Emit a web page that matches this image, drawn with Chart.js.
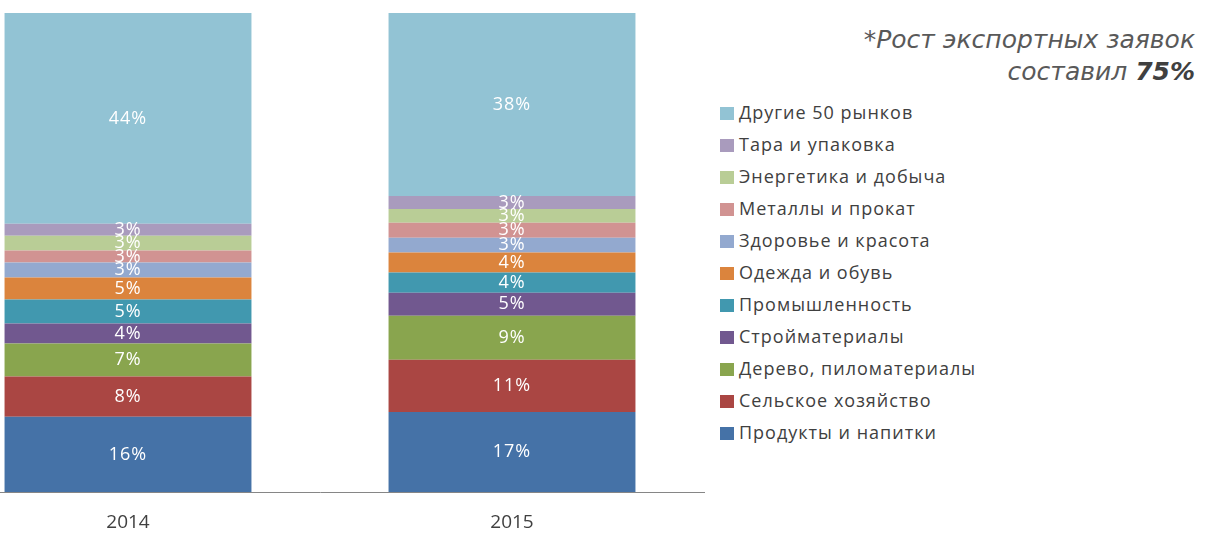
<!DOCTYPE html>
<html>
<head>
<meta charset="utf-8">
<script src="https://cdn.jsdelivr.net/npm/chart.js@4"></script>
<style>
    body { margin: 0; width: 1206px; height: 535px; overflow: hidden; background: #fff; position: relative; }
    #wrap { position: absolute; left: -64px; top: 0; width: 770px; height: 535px; }
    #note { position: absolute; right: 11px; top: 24px; text-align: right; color: #595959;
            font-family: "DejaVu Sans", sans-serif; font-style: italic; font-size: 25px; line-height: 32px; }
    #note b { color: #404040; }
    #legend { position: absolute; left: 720px; top: 96px; margin: 0; padding: 0; list-style: none;
              font-family: "Open Sans", sans-serif; font-size: 18px; letter-spacing: 1px; color: #404040; }
    #legend li { height: 32px; line-height: 32px; white-space: nowrap; }
    #legend span { display: inline-block; width: 14px; height: 13px; margin-right: 5px; vertical-align: -1px; }
</style>
</head>
<body>
<div id="wrap"><canvas id="chart"></canvas></div>
<div id="note">*Рост экспортных заявок<br>составил <b>75%</b></div>
<ul id="legend"></ul>
<script>
// categories (years)
const years = ['2014', '2015'];

// segments, bottom to top
const segments = [
    'Продукты и напитки',
    'Сельское хозяйство',
    'Дерево, пиломатериалы',
    'Стройматериалы',
    'Промышленность',
    'Одежда и обувь',
    'Здоровье и красота',
    'Металлы и прокат',
    'Энергетика и добыча',
    'Тара и упаковка',
    'Другие 50 рынков'
];

// share of each segment, %
const share2014 = [15.7, 8.4, 6.9, 4.2, 5.0, 4.6, 3.1, 2.5, 3.1, 2.5, 44.0];
const share2015 = [16.7, 10.9, 9.2, 4.8, 4.2, 4.2, 3.1, 3.1, 2.9, 2.7, 38.2];

const colors = ['#4572A7', '#AA4643', '#89A54E', '#71588F', '#4198AF', '#DB843D',
                '#93A9CF', '#D19392', '#B9CD96', '#A99BBD', '#92C3D4'];

// white % labels in the middle of each segment
const segmentLabels = {
    id: 'segmentLabels',
    afterDatasetsDraw(chart) {
        const ctx = chart.ctx;
        ctx.save();
        ctx.fillStyle = '#fff';
        ctx.font = '18px "Open Sans", sans-serif';
        ctx.letterSpacing = '1px';
        ctx.textAlign = 'center';
        ctx.textBaseline = 'middle';
        chart.data.datasets.forEach((ds, i) => {
            chart.getDatasetMeta(i).data.forEach((bar, j) => {
                const v = ds.data[j];
                ctx.fillText(Math.round(v) + '%', bar.x, (bar.y + bar.base) / 2);
            });
        });
        ctx.restore();
    }
};

new Chart(document.getElementById('chart'), {
    type: 'bar',
    data: {
        labels: years,
        datasets: segments.map((name, i) => ({
            label: name,
            data: [share2014[i], share2015[i]],
            backgroundColor: colors[i],
            borderWidth: 0,
            barPercentage: 0.643,
            categoryPercentage: 1
        }))
    },
    options: {
        responsive: true,
        maintainAspectRatio: false,
        animation: false,
        layout: { padding: { top: 13, right: 2, left: 0, bottom: 0 } },
        plugins: {
            legend: { display: false },
            tooltip: { enabled: false }
        },
        scales: {
            x: {
                stacked: true,
                grid: { display: false, drawTicks: false },
                border: { display: true, color: '#868686', width: 1 },
                ticks: { color: '#404040', padding: 19, font: { family: '"Open Sans", sans-serif', size: 19 } },
                afterFit: s => { s.height = 43; }
            },
            y: {
                stacked: true,
                display: false,
                min: 0,
                max: 100
            }
        }
    },
    plugins: [segmentLabels]
});

// legend, top to bottom like the stack
const legend = document.getElementById('legend');
segments.slice().reverse().forEach((name, k) => {
    const i = segments.length - 1 - k;
    const li = document.createElement('li');
    li.innerHTML = '<span style="background:' + colors[i] + '"></span>' + name;
    legend.appendChild(li);
});
</script>
</body>
</html>
